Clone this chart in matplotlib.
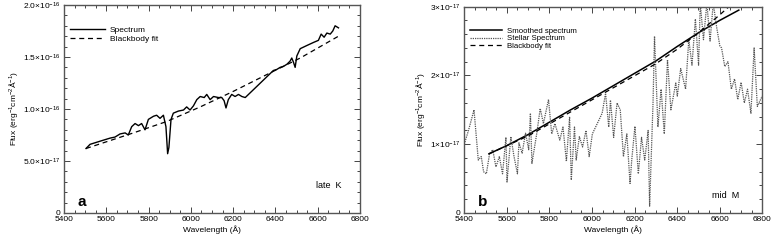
import matplotlib
matplotlib.use("Agg")
import matplotlib.pyplot as plt
from matplotlib.ticker import MultipleLocator, FixedLocator, FixedFormatter

plt.rcParams['font.family'] = ['Liberation Sans', 'DejaVu Sans']
plt.rcParams['mathtext.fontset'] = 'custom'
plt.rcParams['mathtext.rm'] = 'Liberation Sans'
plt.rcParams['mathtext.it'] = 'Liberation Sans'

# ---- Panel a (late K), flux in units of 1e-16 ----
a_spec_wl = [5504, 5523, 5570, 5618, 5641, 5665, 5689, 5704, 5720, 5736, 5752, 5767,
             5783, 5799, 5823, 5838, 5854, 5870, 5882, 5890, 5896, 5906, 5917, 5941,
             5965, 5980, 5996, 6012, 6028, 6044, 6063, 6075, 6091, 6107, 6130, 6146,
             6157, 6166, 6177, 6193, 6209, 6225, 6241, 6257, 6390, 6406, 6422, 6438,
             6454, 6469, 6477, 6485, 6493, 6501, 6517, 6548, 6580, 6603, 6616, 6630,
             6643, 6659, 6671, 6682, 6698]
a_spec_fx = [0.62, 0.66, 0.69, 0.72, 0.73, 0.76, 0.77, 0.75, 0.83, 0.86, 0.84, 0.86,
             0.80, 0.90, 0.93, 0.94, 0.91, 0.94, 0.83, 0.57, 0.63, 0.90, 0.96, 0.98,
             0.99, 1.02, 0.99, 1.03, 1.09, 1.12, 1.11, 1.14, 1.09, 1.12, 1.11, 1.11,
             1.08, 1.01, 1.09, 1.14, 1.12, 1.14, 1.12, 1.11, 1.37, 1.38, 1.40, 1.41,
             1.43, 1.46, 1.49, 1.45, 1.40, 1.51, 1.58, 1.61, 1.64, 1.66, 1.72, 1.69,
             1.73, 1.72, 1.75, 1.80, 1.78]
a_bb_wl = [5504, 5728, 5886, 6044, 6201, 6358, 6517, 6698]
a_bb_fx = [0.62, 0.77, 0.88, 1.02, 1.17, 1.33, 1.49, 1.70]

# ---- Panel b (mid M), flux in units of 1e-17 ----
b_smooth_wl = [5516, 5600, 5700, 5800, 5900, 6000, 6100, 6200, 6300, 6400, 6500, 6600, 6690]
b_smooth_fx = [0.86, 0.98, 1.14, 1.32, 1.50, 1.67, 1.85, 2.03, 2.21, 2.42, 2.62, 2.80, 2.95]
b_bb_wl = [5516, 5700, 5900, 6100, 6300, 6400, 6500, 6600, 6680]
b_bb_fx = [0.86, 1.12, 1.47, 1.82, 2.17, 2.38, 2.62, 2.88, 3.10]
b_star_wl = [5400, 5420, 5446, 5466, 5480, 5491, 5504, 5519, 5534, 5549, 5565, 5580,
             5596, 5601, 5619, 5634, 5650, 5657, 5672, 5688, 5703, 5711, 5718, 5741,
             5757, 5772, 5796, 5811, 5826, 5849, 5864, 5880, 5895, 5903, 5918, 5926,
             5941, 5956, 5972, 5987, 6002, 6025, 6048, 6064, 6079, 6087, 6102, 6118,
             6133, 6148, 6164, 6179, 6187, 6202, 6218, 6233, 6248, 6264, 6271, 6287,
             6294, 6310, 6325, 6340, 6355, 6371, 6394, 6401, 6417, 6440, 6455, 6470,
             6486, 6501, 6509, 6524, 6540, 6555, 6570, 6586, 6601, 6609, 6624, 6639,
             6655, 6670, 6685, 6701, 6716, 6731, 6747, 6762, 6777, 6800]
b_star_fx = [1.00, 1.20, 1.50, 0.77, 0.82, 0.60, 0.57, 0.86, 0.92, 0.67, 0.82, 0.57,
             1.10, 0.45, 1.11, 0.82, 0.57, 1.02, 0.87, 1.16, 0.92, 1.45, 0.72, 1.16,
             1.52, 1.30, 1.65, 1.15, 1.30, 1.06, 1.25, 0.75, 1.40, 0.48, 1.25, 0.77,
             1.11, 0.96, 1.20, 0.82, 1.15, 1.30, 1.45, 1.74, 1.25, 1.64, 1.10, 1.60,
             1.50, 0.82, 1.15, 0.43, 0.77, 1.26, 0.57, 1.10, 0.77, 1.20, 0.10, 1.60,
             2.57, 1.25, 1.80, 1.15, 2.23, 1.50, 1.89, 1.70, 2.10, 1.80, 2.52, 2.15,
             2.82, 2.15, 3.05, 2.52, 3.05, 2.50, 3.05, 2.70, 2.43, 2.40, 2.13, 2.20,
             1.80, 1.95, 1.65, 1.90, 1.60, 1.80, 1.45, 2.40, 1.55, 1.70]

ticklbl_a = ['0', '5.0\u00d710$^{-17}$', '1.0\u00d710$^{-16}$', '1.5\u00d710$^{-16}$', '2.0\u00d710$^{-16}$']
ticklbl_b = ['0', '1\u00d710$^{-17}$', '2\u00d710$^{-17}$', '3\u00d710$^{-17}$']

fig = plt.figure(figsize=(7.75, 2.43), dpi=100)
axa = fig.add_axes([0.0826, 0.1235, 0.382, 0.856])
axb = fig.add_axes([0.599, 0.1235, 0.3845, 0.849])

FS = 6.0
for ax in (axa, axb):
    ax.set_xlim(5400, 6800)
    ax.xaxis.set_major_locator(MultipleLocator(200))
    ax.xaxis.set_minor_locator(MultipleLocator(50))
    ax.tick_params(which='both', direction='in', top=True, right=True,
                   labelsize=FS, width=0.7, color='#444444', pad=2.5)
    ax.tick_params(which='major', length=4)
    ax.tick_params(which='minor', length=2)
    for s in ax.spines.values():
        s.set_linewidth(1.0)
        s.set_color('#555555')
    ax.set_xlabel('Wavelength (\u00c5)', fontsize=FS, labelpad=1)
    ax.set_ylabel('Flux (erg$^{-1}$cm$^{-2}$\u00c5$^{-1}$)', fontsize=FS, labelpad=2)

# panel a
axa.set_ylim(0, 2.0)
axa.yaxis.set_major_locator(FixedLocator([0, 0.5, 1.0, 1.5, 2.0]))
axa.yaxis.set_major_formatter(FixedFormatter(ticklbl_a))
axa.yaxis.set_minor_locator(MultipleLocator(0.1))
axa.plot(a_spec_wl, a_spec_fx, color='black', lw=1.0, label='Spectrum')
axa.plot(a_bb_wl, a_bb_fx, color='black', lw=0.9, ls=(0, (4, 3)), label='Blackbody fit')
axa.legend(loc='upper left', bbox_to_anchor=(0.0, 0.925), frameon=False, fontsize=FS,
           handlelength=4.2, handletextpad=0.6, labelspacing=0.15, borderaxespad=0.3)
axa.text(0.045, 0.035, 'a', transform=axa.transAxes, fontsize=11, fontweight='bold')
axa.text(0.85, 0.12, 'late  K', transform=axa.transAxes, fontsize=FS + 0.5)

# panel b
axb.set_ylim(0, 3.0)
axb.yaxis.set_major_locator(FixedLocator([0, 1, 2, 3]))
axb.yaxis.set_major_formatter(FixedFormatter(ticklbl_b))
axb.yaxis.set_minor_locator(MultipleLocator(0.2))
axb.plot(b_smooth_wl, b_smooth_fx, color='black', lw=1.1, label='Smoothed spectrum')
axb.plot(b_star_wl, b_star_fx, color='#555555', lw=0.9, ls=(0, (1, 0.8)), label='Stellar Spectrum')
axb.plot(b_bb_wl, b_bb_fx, color='black', lw=0.9, ls=(0, (4, 3)), label='Blackbody fit')
axb.legend(loc='upper left', bbox_to_anchor=(0.0, 0.925), frameon=False, fontsize=5.6,
           handlelength=4.2, handletextpad=0.6, labelspacing=0.0, borderaxespad=0.3)
axb.text(0.045, 0.035, 'b', transform=axb.transAxes, fontsize=11, fontweight='bold')
axb.text(0.83, 0.075, 'mid  M', transform=axb.transAxes, fontsize=FS + 0.5)

fig.savefig('out.png', dpi=100)
